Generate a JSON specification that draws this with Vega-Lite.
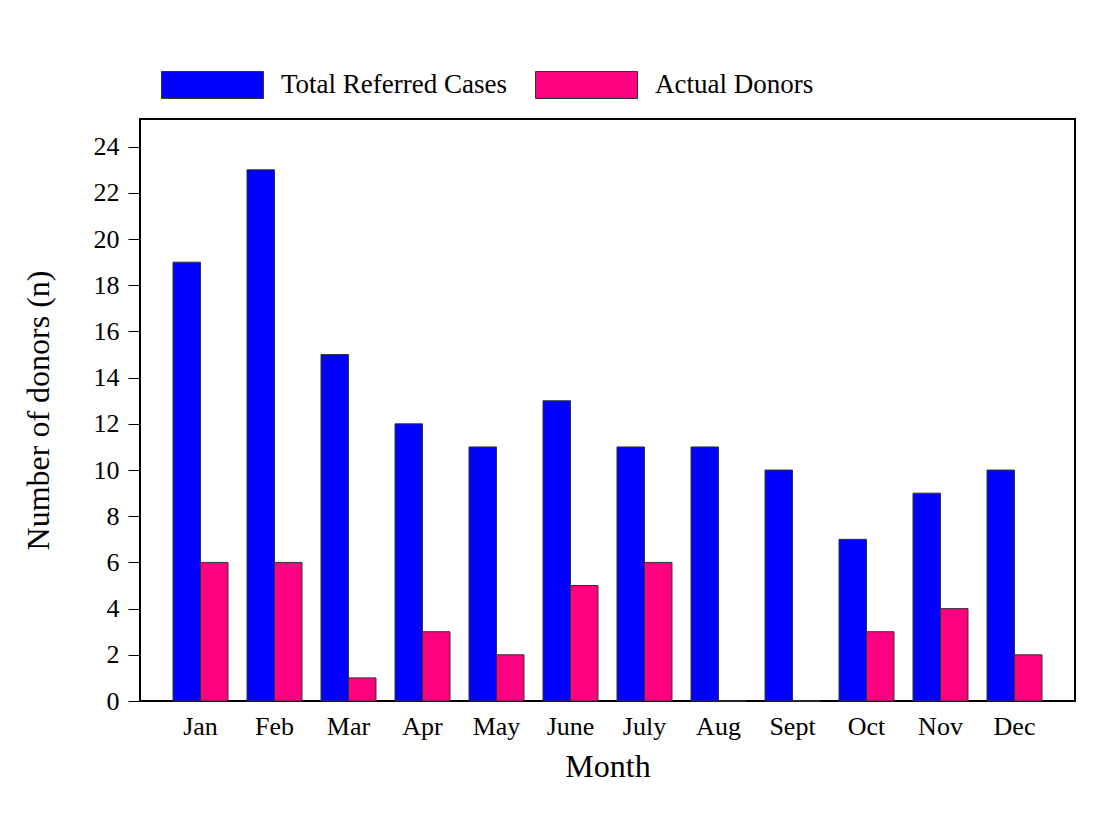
{
  "$schema": "https://vega.github.io/schema/vega-lite/v6.json",
  "width": 935,
  "height": 582,
  "autosize": {"type": "none"},
  "padding": {"left": 140, "top": 119, "right": 27, "bottom": 117},
  "background": "white",
  "config": {
    "font": "Liberation Serif",
    "view": {"stroke": "black", "strokeWidth": 2},
    "axis": {"labelFont": "Liberation Serif", "titleFont": "Liberation Serif", "labelColor": "black", "titleColor": "black", "domainColor": "black", "tickColor": "black", "grid": false}
  },
  "data": {
    "values": [
      {"month": "Jan", "series": "Total Referred Cases", "n": 19},
      {"month": "Jan", "series": "Actual Donors", "n": 6},
      {"month": "Feb", "series": "Total Referred Cases", "n": 23},
      {"month": "Feb", "series": "Actual Donors", "n": 6},
      {"month": "Mar", "series": "Total Referred Cases", "n": 15},
      {"month": "Mar", "series": "Actual Donors", "n": 1},
      {"month": "Apr", "series": "Total Referred Cases", "n": 12},
      {"month": "Apr", "series": "Actual Donors", "n": 3},
      {"month": "May", "series": "Total Referred Cases", "n": 11},
      {"month": "May", "series": "Actual Donors", "n": 2},
      {"month": "June", "series": "Total Referred Cases", "n": 13},
      {"month": "June", "series": "Actual Donors", "n": 5},
      {"month": "July", "series": "Total Referred Cases", "n": 11},
      {"month": "July", "series": "Actual Donors", "n": 6},
      {"month": "Aug", "series": "Total Referred Cases", "n": 11},
      {"month": "Aug", "series": "Actual Donors", "n": 0},
      {"month": "Sept", "series": "Total Referred Cases", "n": 10},
      {"month": "Sept", "series": "Actual Donors", "n": 0},
      {"month": "Oct", "series": "Total Referred Cases", "n": 7},
      {"month": "Oct", "series": "Actual Donors", "n": 3},
      {"month": "Nov", "series": "Total Referred Cases", "n": 9},
      {"month": "Nov", "series": "Actual Donors", "n": 4},
      {"month": "Dec", "series": "Total Referred Cases", "n": 10},
      {"month": "Dec", "series": "Actual Donors", "n": 2}
    ]
  },
  "mark": {"type": "bar", "stroke": "#333333", "strokeWidth": 1},
  "encoding": {
    "x": {
      "field": "month",
      "type": "nominal",
      "sort": ["Jan", "Feb", "Mar", "Apr", "May", "June", "July", "Aug", "Sept", "Oct", "Nov", "Dec"],
      "scale": {"paddingInner": 0.257, "paddingOuter": 0.446},
      "axis": {"title": "Month", "labelAngle": 0, "ticks": false, "domain": false, "labelFontSize": 26, "labelPadding": 12, "titleFontSize": 32, "titleFontWeight": "normal", "titlePadding": 12}
    },
    "xOffset": {
      "field": "series",
      "sort": ["Total Referred Cases", "Actual Donors"]
    },
    "y": {
      "field": "n",
      "type": "quantitative",
      "scale": {"domain": [0, 25.2], "nice": false},
      "axis": {"title": "Number of donors (n)", "values": [0, 2, 4, 6, 8, 10, 12, 14, 16, 18, 20, 22, 24], "tickSize": 12, "tickWidth": 1, "domain": false, "labelFontSize": 26, "labelPadding": 9, "titleFontSize": 32, "titleFontWeight": "normal", "titlePadding": 38}
    },
    "color": {
      "field": "series",
      "type": "nominal",
      "sort": ["Total Referred Cases", "Actual Donors"],
      "scale": {"domain": ["Total Referred Cases", "Actual Donors"], "range": ["#0000FF", "#FF0080"]},
      "legend": {
        "title": null,
        "orient": "none",
        "legendX": 21,
        "legendY": -86,
        "direction": "horizontal",
        "symbolType": "M-1,-0.265H1V0.265H-1Z",
        "symbolSize": 10404,
        "symbolStrokeColor": "#333333",
        "symbolStrokeWidth": 1,
        "symbolOpacity": 1,
        "labelFont": "Liberation Serif",
        "labelFontSize": 27,
        "labelColor": "black",
        "labelOffset": 17,
        "columnPadding": 25,
        "labelLimit": 400
      }
    }
  }
}
